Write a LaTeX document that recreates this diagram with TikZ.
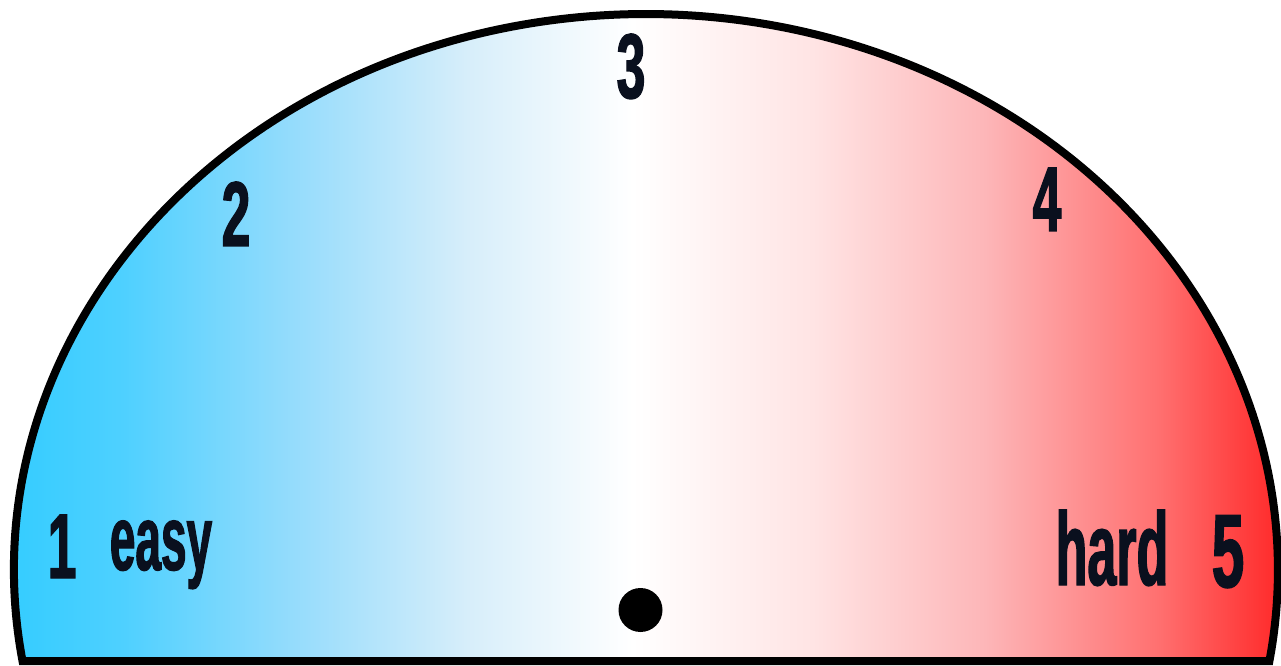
\documentclass[tikz,border=0pt]{standalone}
\usepackage{fontspec}
\newfontfamily\digitfont{Liberation Sans}[UprightFont={* Bold}, FakeStretch=0.56, FakeBold=1.4]
\newfontfamily\wordfont{Liberation Sans}[UprightFont={* Bold}, FakeStretch=0.5, FakeBold=1.2]
\definecolor{ink}{HTML}{0A101E}
\pgfdeclarehorizontalshading{meter}{100bp}{%
  rgb(0bp)=(0.165,0.796,1);
  rgb(25bp)=(0.165,0.796,1);
  rgb(30.89bp)=(0.306,0.816,1);
  rgb(37.38bp)=(0.588,0.863,0.988);
  rgb(43.83bp)=(0.843,0.933,0.980);
  rgb(50bp)=(1,1,1);
  rgb(56.77bp)=(1,0.894,0.894);
  rgb(63.21bp)=(0.992,0.714,0.722);
  rgb(69.70bp)=(1,0.439,0.439);
  rgb(75bp)=(1,0.118,0.118);
  rgb(100bp)=(1,0.118,0.118)}
\begin{document}
\begin{tikzpicture}[x=0.5pt,y=0.5pt,
  dig/.style={inner sep=0pt, anchor=base, text=ink,
    font=\digitfont\fontsize{46}{46}\selectfont},
  bigdig/.style={inner sep=0pt, anchor=base, text=ink,
    font=\digitfont\fontsize{52}{52}\selectfont},
  word/.style={inner sep=0pt, anchor=base, text=ink,
    font=\wordfont\fontsize{46}{46}\selectfont},
  bigword/.style={inner sep=0pt, anchor=base, text=ink,
    font=\wordfont\fontsize{52}{52}\selectfont},
  dial/.style={shading=meter, draw=black, line width=4pt, line join=miter}]
\useasboundingbox (0,0) rectangle (1281,665);
% dial face
\path[dial] (22.52,4) arc[start angle=189.42, end angle=-9.42,
  x radius=632, y radius=556] -- cycle;
% labels
\node[dig] (one) at (62,87) {1};
\node[word] (easy) at (161,95) {easy};
\node[dig] (two) at (236,419) {2};
\node[dig] (three) at (631,567) {3};
\node[dig] (four) at (1047,434) {4};
\node[bigword] (hard) at (1112,80) {hard};
\node[bigdig] (five) at (1228,78) {5};
% pivot
\node[circle, fill=black, inner sep=0pt, minimum size=22pt] (pivot) at (640.5,55) {};
\end{tikzpicture}
\end{document}
